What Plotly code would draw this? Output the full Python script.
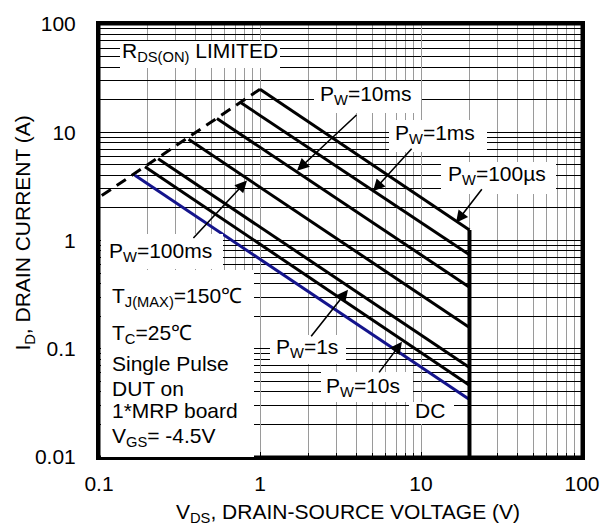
import plotly.graph_objects as go

# ---------------- data ----------------
curve_names = ["P<sub>W</sub>=100µs", "P<sub>W</sub>=1ms", "P<sub>W</sub>=10ms",
               "P<sub>W</sub>=100ms", "P<sub>W</sub>=1s", "P<sub>W</sub>=10s", "DC"]
v_start = [1.0, 0.75, 0.54, 0.36, 0.233, 0.193, 0.167]
i_start = [25.0, 19.0, 13.4, 8.6, 5.7, 4.8, 4.0]
v_end = [20, 20, 20, 20, 20, 20, 20]
i_end = [1.25, 0.74, 0.37, 0.157, 0.067, 0.046, 0.034]
curve_colors = ["#000000", "#000000", "#000000", "#000000", "#000000", "#000000", "#14148c"]

rds_v = [0.104, 1.0]
rds_i = [2.6, 25.0]

vmax_v = [20, 20]
vmax_i = [1.25, 0.01]

x_tick_vals = [0.1, 1, 10, 100]
x_tick_text = ["0.1", "1", "10", "100"]
y_tick_vals = [0.01, 0.1, 1, 10, 100]
y_tick_text = ["0.01", "0.1", "1", "10", "100"]

x_minor = [m * 10.0 ** e for e in (-1, 0, 1) for m in range(2, 10)]
y_minor = [m * 10.0 ** e for e in (-2, -1, 0, 1) for m in range(2, 10)]

# ---------------- layout geometry helpers (pixels) ----------------
L, T, W, H = 99, 17, 483, 440
FONT = "Liberation Sans, Arial, sans-serif"
FS = 21


def px(x):
    return (x - L) / W


def py(y):
    return (T + H - y) / H


fig = go.Figure()

fig.add_trace(go.Scatter(x=rds_v, y=rds_i, mode="lines",
                         line=dict(color="black", width=3, dash="11px,7px"),
                         showlegend=False, hoverinfo="skip"))

for name, vs, is_, ve, ie, c in zip(curve_names, v_start, i_start, v_end, i_end, curve_colors):
    fig.add_trace(go.Scatter(x=[vs, ve], y=[is_, ie], mode="lines", name=name,
                             line=dict(color=c, width=3), showlegend=False))

fig.add_trace(go.Scatter(x=vmax_v, y=vmax_i, mode="lines",
                         line=dict(color="black", width=4), showlegend=False, hoverinfo="skip"))

# white boxes behind labels (blank annotations)
boxes = [
    (120, 35, 280, 62),
    (314, 75, 421, 107),
    (389, 115, 487, 147),
    (441, 157, 556, 189),
    (101, 231, 223, 266),
    (101, 268, 254, 455),
    (270, 333, 346, 362),
    (321, 371, 413, 401),
    (409, 401, 454, 423),
]
for x0, y0, x1, y1 in boxes:
    fig.add_annotation(text=" ", xref="paper", yref="paper",
                       x=px((x0 + x1) / 2), y=py((y0 + y1) / 2),
                       xanchor="center", yanchor="middle", showarrow=False,
                       width=x1 - x0, height=y1 - y0, borderpad=0, borderwidth=0,
                       bgcolor="white", font=dict(family=FONT, size=10))

labels = [
    ("R<sub>DS(ON)</sub> LIMITED", 199.5, 45.5, "center"),
    (curve_names[2], 365.5, 89, "center"),
    (curve_names[1], 435, 128.5, "center"),
    (curve_names[0], 496.5, 170.5, "center"),
    (curve_names[3], 160, 249, "center"),
    (curve_names[4], 306.5, 346, "center"),
    (curve_names[5], 362.5, 385.5, "center"),
    (curve_names[6], 429.5, 410, "center"),
    ("T<sub>J(MAX)</sub>=150℃", 110, 294, "left"),
    ("T<sub>C</sub>=25℃", 110, 332.5, "left"),
    ("Single Pulse", 110, 362, "left"),
    ("DUT on", 110, 387, "left"),
    ("1*MRP board", 110, 410, "left"),
    ("V<sub>GS</sub>= -4.5V", 110, 437, "left"),
]
for text, x, y, anc in labels:
    fig.add_annotation(text=text, xref="paper", yref="paper", x=px(x), y=py(y),
                       xanchor=anc, yanchor="middle", showarrow=False,
                       font=dict(family=FONT, size=FS, color="black"))

arrows = [
    ((358, 109), (297, 166)),
    ((413, 143), (373, 187)),
    ((483, 184), (456, 219)),
    ((192, 235), (247, 176)),
    ((310, 335), (348, 287)),
    ((378, 372), (402, 340)),
]
for (tx, ty), (hx, hy) in arrows:
    fig.add_annotation(text="", xref="paper", yref="paper", x=px(hx), y=py(hy),
                       ax=tx - hx, ay=ty - hy, showarrow=True, arrowhead=2,
                       arrowsize=1.5, arrowwidth=1.6, arrowcolor="black",
                       standoff=0, startstandoff=0)

# axis titles
fig.add_annotation(text="V<sub>DS</sub>, DRAIN-SOURCE VOLTAGE (V)", xref="paper", yref="paper",
                   x=px(348), y=py(514), xanchor="center", yanchor="middle", showarrow=False,
                   font=dict(family=FONT, size=FS, color="black"))
fig.add_annotation(text="I<sub>D</sub>, DRAIN CURRENT (A)", xref="paper", yref="paper",
                   x=px(24), y=py(230), xanchor="center", yanchor="middle", showarrow=False,
                   textangle=-90, font=dict(family=FONT, size=FS, color="black"))

# plot frame
fig.add_shape(type="rect", xref="paper", yref="paper", x0=0, x1=1, y0=0, y1=1,
              line=dict(color="black", width=3), fillcolor="rgba(0,0,0,0)", layer="above")

axis_common = dict(
    type="log", ticks="inside", ticklen=5, tickwidth=1, tickcolor="black",
    showline=True, mirror=True, linecolor="black", linewidth=3,
    tickfont=dict(family=FONT, size=FS, color="black"), showgrid=True, gridwidth=1,
)
fig.update_xaxes(range=[-1, 2], tickmode="array", tickvals=x_tick_vals, ticktext=x_tick_text,
                 gridcolor="#9a9a9a", ticklabelstandoff=6,
                 minor=dict(tickmode="array", tickvals=x_minor, ticks="inside", ticklen=4,
                            tickcolor="black", showgrid=True, gridcolor="#9a9a9a", gridwidth=1),
                 **axis_common)
fig.update_yaxes(range=[-2, 2], tickmode="array", tickvals=y_tick_vals, ticktext=y_tick_text,
                 gridcolor="#000000", ticklabelstandoff=16,
                 minor=dict(tickmode="array", tickvals=y_minor, ticks="inside", ticklen=4,
                            tickcolor="black", showgrid=True, gridcolor="#000000", gridwidth=1),
                 **axis_common)

fig.update_layout(width=615, height=525, margin=dict(l=L, r=615 - L - W, t=T, b=525 - T - H),
                  paper_bgcolor="white", plot_bgcolor="white", showlegend=False,
                  font=dict(family=FONT, size=FS, color="black"))

fig.write_html("out.html", post_script="document.body.style.margin='0px';",
               config={"displayModeBar": False})
